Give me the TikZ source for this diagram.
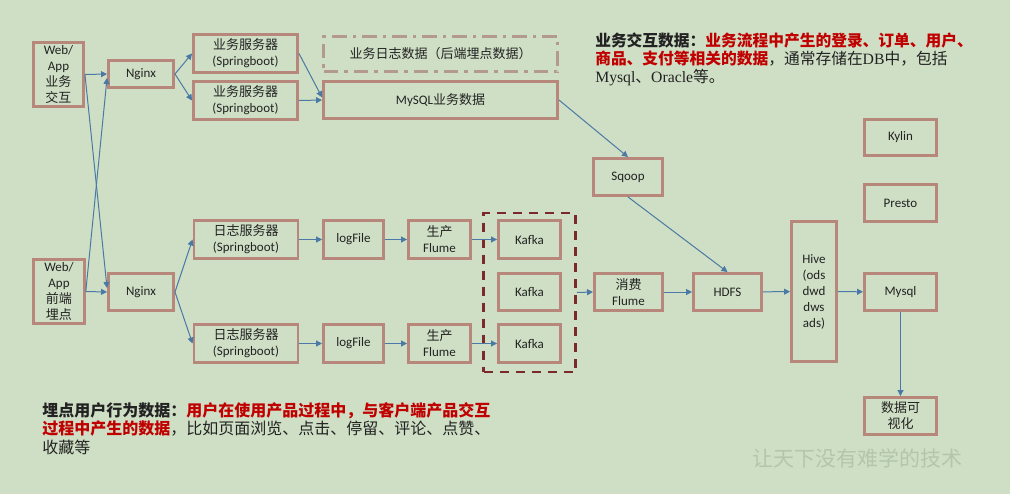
\documentclass[tikz,border=0pt]{standalone}
\usepackage{fontspec}
\setmainfont{Carlito}
\newfontfamily\zh{Noto Sans CJK SC}
\newfontfamily\tnr{Liberation Serif}
\usetikzlibrary{arrows.meta}
\definecolor{paper}{HTML}{CFDFC5}
\definecolor{brick}{HTML}{B8877B}
\definecolor{dust}{HTML}{B39A8C}
\definecolor{maroon}{HTML}{7A2A2A}
\definecolor{steel}{HTML}{4A79A5}
\definecolor{alert}{HTML}{C00000}
\definecolor{ink}{HTML}{222222}
\definecolor{ghost}{HTML}{B4C5AE}

\begin{document}
\begin{tikzpicture}[x=0.75pt,y=-0.75pt,
  box/.style={draw=brick,line width=2.2pt,align=center,inner sep=1pt,
              font=\fontsize{9.75}{12}\selectfont,text=ink},
  wide/.style={box,minimum width=78pt,minimum height=28pt},
  small/.style={box,minimum width=46.5pt,minimum height=28.5pt},
  side/.style={box,minimum width=54pt,minimum height=27.75pt},
  note/.style={align=left,inner sep=0pt,text=ink,anchor=north west},
  arrow/.style={-{Triangle[length=4.5pt,width=4.5pt]},line width=0.75pt,draw=steel}
]
\fill[paper] (0,0) rectangle (1010,494);
\useasboundingbox (0,0) rectangle (1010,494);

\node[box,minimum width=37.5pt,minimum height=48pt] (weba) at (58.5,74.5)
  {Web/\\App\\{\zh 业务}\\{\zh 交互}};
\node[box,minimum width=38pt,minimum height=48pt] (webb) at (59,291.5)
  {Web/\\App\\{\zh 前端}\\{\zh 埋点}};
\node[box,minimum width=48.75pt,minimum height=20.25pt] (ngxa) at (141,74) {Nginx};
\node[box,minimum width=48.75pt,minimum height=27.75pt] (ngxb) at (141,292) {Nginx};

\node[wide] (srva) at (245.5,53.5) {{\zh 业务服务器}\\(Springboot)};
\node[wide] (srvb) at (245.5,100.5) {{\zh 业务服务器}\\(Springboot)};
\node[box,draw=dust,minimum width=175.5pt,minimum height=26.25pt,
      dash pattern=on 11pt off 4.5pt on 2.5pt off 4.5pt] (logdata) at (440.5,54)
  {\zh 业务日志数据（后端埋点数据）};
\node[box,minimum width=175.5pt,minimum height=27.75pt] (bizdb) at (440.5,100)
  {MySQL{\zh 业务数据}};
\node[side,minimum width=51.75pt] (sqoop) at (628,177) {Sqoop};

\node[wide] (logsrva) at (246,239.5) {{\zh 日志服务器}\\(Springboot)};
\node[wide] (logsrvb) at (246,343.5) {{\zh 日志服务器}\\(Springboot)};
\node[small,minimum width=45pt] (filea) at (353.5,239.5) {logFile};
\node[small,minimum width=45pt] (fileb) at (353.5,343.5) {logFile};
\node[small] (proda) at (439.5,239.5) {{\zh 生产}\\Flume};
\node[small] (prodb) at (439.5,343.5) {{\zh 生产}\\Flume};
\node[small] (kafkaa) at (529.5,239.5) {Kafka};
\node[small,minimum height=27.75pt] (kafkab) at (529.5,292) {Kafka};
\node[small] (kafkac) at (529.5,343.5) {Kafka};
\node[draw=maroon,line width=1.9pt,dash pattern=on 7pt off 5pt,
      minimum width=69pt,minimum height=119pt] (kafkas) at (529.5,292.5) {};

\node[side,minimum width=51pt] (consume) at (628.5,292) {{\zh 消费}\\Flume};
\node[side,minimum width=51pt] (hdfs) at (727.5,292) {HDFS};
\node[box,minimum width=33.75pt,minimum height=105pt] (hive) at (814,291.5)
  {Hive\\(ods\\dwd\\dws\\ads)};
\node[side,minimum height=27pt] (kylin) at (900.5,137.5) {Kylin};
\node[side] (presto) at (900.5,203) {Presto};
\node[side] (mysql) at (900.5,292) {Mysql};
\node[side] (viz) at (900.5,416) {{\zh 数据可}\\{\zh 视化}};

\draw[arrow] (weba.east) -- (ngxa.west);
\draw[arrow] (weba.east) -- ([yshift=3pt]ngxb.west);
\draw[arrow] (webb.east) -- (ngxb.west);
\draw[arrow] (webb.east) -- ([yshift=-3pt]ngxa.west);
\draw[arrow] (ngxa.east) -- (srva.west);
\draw[arrow] (ngxa.east) -- (srvb.west);
\draw[arrow] (srva.east) -- ([yshift=2pt]bizdb.west);
\draw[arrow] (srvb.east) -- (bizdb.west);
\draw[arrow] (bizdb.east) -- (sqoop.north);
\draw[arrow] (sqoop.south) -- (hdfs.north);
\draw[arrow] (ngxb.east) -- (logsrva.west);
\draw[arrow] (ngxb.east) -- (logsrvb.west);
\draw[arrow] (logsrva) -- (filea);
\draw[arrow] (filea) -- (proda);
\draw[arrow] (proda) -- (kafkaa);
\draw[arrow] (logsrvb) -- (fileb);
\draw[arrow] (fileb) -- (prodb);
\draw[arrow] (prodb) -- (kafkac);
\draw[arrow] (kafkas.east) -- (consume.west);
\draw[arrow] (consume) -- (hdfs);
\draw[arrow] (hdfs) -- (hive);
\draw[arrow] (hive) -- (mysql);
\draw[arrow] (mysql) -- (viz);

\node[note,font=\fontsize{11.8}{13.5}\selectfont] (bizinfo) at (595,33)
  {{\zh\bfseries 业务交互数据：}{\color{alert}\zh\bfseries 业务流程中产生的登录、订单、用户、}\\
   {\color{alert}\zh\bfseries 商品、支付等相关的数据}{\zh ，通常存储在}{\tnr DB}{\zh 中，包括}\\
   {\tnr Mysql}{\zh 、}{\tnr Oracle}{\zh 等。}};
\node[note,font=\fontsize{12}{13.9}\selectfont] (loginfo) at (42,402)
  {{\zh\bfseries 埋点用户行为数据：}{\color{alert}\zh\bfseries 用户在使用产品过程中，与客户端产品交互}\\
   {\color{alert}\zh\bfseries 过程中产生的数据}{\zh ，比如页面浏览、点击、停留、评论、点赞、}\\
   {\zh 收藏等}};
\node[text=ghost,font=\zh\fontsize{15.75}{16}\selectfont] (motto) at (857,458)
  {让天下没有难学的技术};
\end{tikzpicture}
\end{document}
